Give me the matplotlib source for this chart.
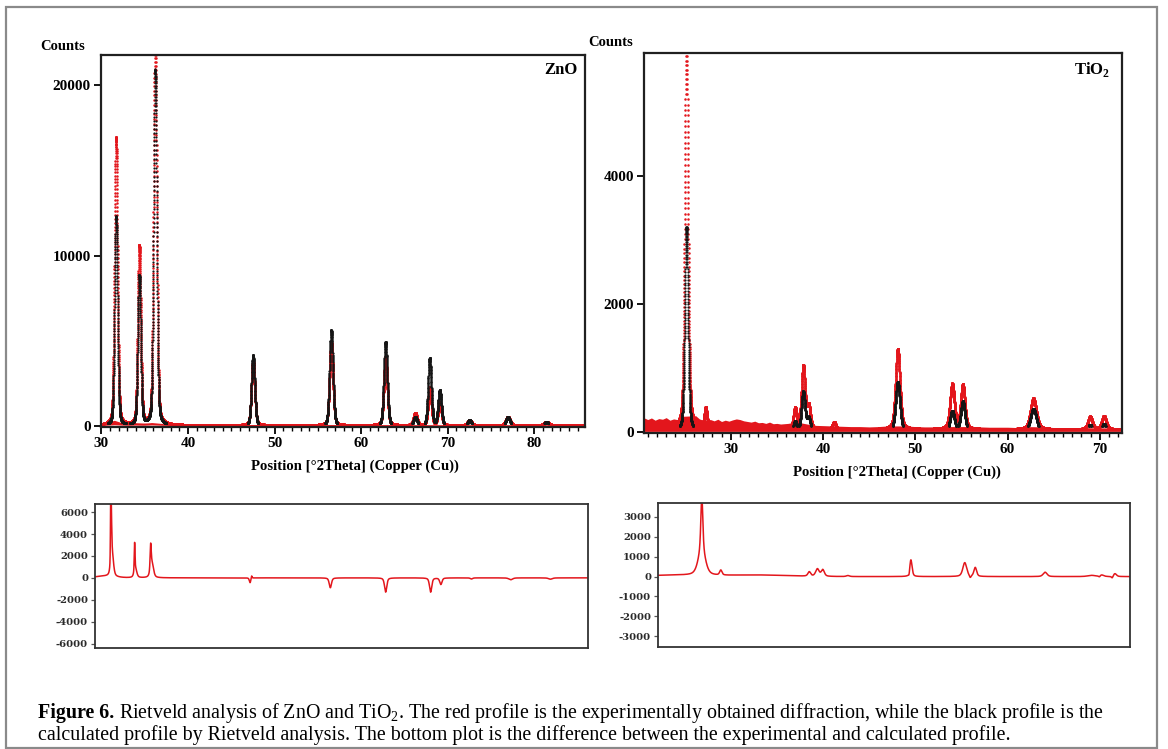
import numpy as np
import matplotlib
matplotlib.use('Agg')
import matplotlib.pyplot as plt
from matplotlib.patches import Rectangle

plt.rcParams['font.family'] = ['Liberation Serif', 'DejaVu Serif']
plt.rcParams['mathtext.fontset'] = 'custom'
plt.rcParams['mathtext.rm'] = 'Liberation Serif'
plt.rcParams['mathtext.bf'] = 'Liberation Serif:bold'
plt.rcParams['axes.unicode_minus'] = False

RED = '#e3161c'
BLACK = '#151515'

zno_pos = [31.70, 34.38, 36.22, 47.52, 56.55, 62.82, 66.25, 67.92, 69.08, 72.52, 76.95, 81.40]
zno_obs = [16900, 10500, 23500, 3850, 4850, 4000, 720, 2200, 1330, 300, 480, 200]
zno_calc = [12300, 8800, 20900, 4150, 5620, 4920, 520, 3980, 2080, 330, 520, 230]
zno_fwhm = [0.40, 0.40, 0.42, 0.44, 0.46, 0.46, 0.46, 0.44, 0.44, 0.50, 0.55, 0.60]
zno_bg = 50
# thick noisy band of the observed background
zno_band_x = [29.9, 30.4, 30.8, 31.2, 31.5, 32.3, 32.8, 33.4, 33.9, 34.9, 35.4, 35.8, 36.9, 37.6, 40, 50, 60, 70, 80, 85.9]
zno_band_hi = [150, 190, 230, 290, 330, 200, 150, 170, 190, 170, 180, 200, 150, 110, 90, 80, 80, 70, 70, 70]
zno_band_lo = [30, 40, 50, 60, 70, 50, 40, 40, 50, 40, 50, 60, 40, 30, 30, 20, 20, 20, 20, 20]

# ---- TiO2 peaks
tio2_pos = [25.20, 27.28, 36.97, 37.86, 38.45, 41.20, 48.10, 54.00, 55.15, 62.80, 68.95, 70.45]
tio2_obs = [6500, 320, 320, 980, 350, 110, 1260, 700, 690, 480, 195, 205]
tio2_calc = [3200, 0, 150, 620, 200, 0, 780, 320, 470, 360, 110, 120]
tio2_fwhm = [0.40, 0.35, 0.40, 0.45, 0.42, 0.40, 0.55, 0.55, 0.52, 0.75, 0.55, 0.55]
tio2_bg = 40
tio2_band_x = [20.55, 21.0, 21.4, 21.8, 22.2, 22.6, 23.0, 23.4, 23.8, 24.2, 24.6, 26.2, 26.6,
               27.0, 27.8, 28.2, 28.6, 29.0, 29.4, 29.8, 30.2, 30.6, 31.0, 31.4, 31.8, 32.2,
               32.6, 33.0, 33.4, 33.8, 34.2, 34.6, 35.0, 35.4, 35.8, 36.2, 36.6, 37.2, 39.0,
               40, 41, 42, 43, 44, 45, 46, 47, 49, 50, 51, 52, 53, 56, 57, 58, 59, 60, 61,
               62, 64, 65, 66, 67, 68, 69.5, 71, 72.4]
tio2_band_hi = [220, 190, 215, 180, 205, 195, 220, 180, 200, 190, 240, 250, 200,
                180, 190, 170, 195, 160, 180, 165, 185, 200, 190, 170, 160, 150,
                165, 140, 145, 130, 150, 125, 130, 120, 125, 130, 140, 150, 100,
                95, 90, 85, 80, 80, 75, 80, 90, 90, 80, 75, 75, 80, 80, 75, 70, 70, 70, 65,
                80, 75, 65, 60, 60, 65, 60, 60, 55]
tio2_band_lo = 5

# ---- difference curves (bottom panels): position, amplitude, fwhm
zno_diff_pos = [31.66, 31.74, 31.82, 34.36, 34.46, 36.18, 36.33, 47.45, 47.62, 56.55, 62.82, 67.92, 69.08, 72.55, 77.0, 81.5]
zno_diff_amp = [7500, 2800, 2000, 2600, 800, 2300, 1300, -450, 250, -900, -1300, -1300, -600, -100, -170, -120]
zno_diff_fwhm = [0.08, 0.10, 0.35, 0.10, 0.35, 0.15, 0.40, 0.20, 0.12, 0.30, 0.30, 0.30, 0.30, 0.30, 0.50, 0.50]
zno_diff_hump = [(31.0, 150, 2.5)]

tio2_diff_pos = [25.20, 25.20, 27.28, 36.97, 37.86, 38.45, 41.2, 47.90, 48.10, 54.00, 54.60, 55.15, 62.80, 67.9, 68.75, 69.0, 70.15, 70.45]
tio2_diff_amp = [2700, 1300, 250, 220, 370, 330, 50, -150, 850, 700, -120, 450, 220, 60, -60, 80, -100, 150]
tio2_diff_fwhm = [0.25, 0.90, 0.30, 0.35, 0.45, 0.40, 0.40, 0.15, 0.30, 0.50, 0.20, 0.35, 0.50, 1.00, 0.20, 0.50, 0.20, 0.40]
tio2_diff_hump = [(22.0, 70, 6.0), (31.0, 80, 8.0)]


def pv(x, pos, h, w, eta=0.5):
    d = 4 * (x - pos) ** 2 / w ** 2
    return h * (eta / (1 + d) + (1 - eta) * np.exp(-np.log(2) * d))


def profile(x, pos, hts, fw, base=0.0, humps=(), eta=0.5):
    y = np.full_like(x, base, dtype=float)
    for p, h, w in zip(pos, hts, fw):
        y += pv(x, p, h, w, eta)
    for p, h, w in humps:
        y += pv(x, p, h, w, eta=0.0)
    return y


W, H = 1168, 749
fig = plt.figure(figsize=(W / 100, H / 100), dpi=100)


def box(l, r, t, b):
    return [l / W, 1 - b / H, (r - l) / W, (b - t) / H]


fig.patches.append(Rectangle((6 / W, 1 - 748 / H), 1151 / W, 741 / H, transform=fig.transFigure,
                             fill=False, ec='#8a8a8a', lw=1.6))


def style_top(ax, xlim, ylim, yticks, xticks):
    ax.set_xlim(*xlim)
    ax.set_ylim(*ylim)
    ax.set_yticks(yticks)
    ax.set_xticks(xticks)
    ax.set_xticks(np.arange(np.ceil(xlim[0]), xlim[1], 1.0), minor=True)
    for s in ax.spines.values():
        s.set_linewidth(1.6)
        s.set_color('#202020')
    ax.tick_params(axis='both', which='major', direction='out', length=5, width=1.3,
                   labelsize=11, pad=2)
    ax.tick_params(axis='x', which='minor', direction='out', length=3, width=1.0)
    for lab in ax.get_xticklabels() + ax.get_yticklabels():
        lab.set_fontweight('bold')


def style_bottom(ax, xlim, ylim, yticks):
    ax.set_xlim(*xlim)
    ax.set_ylim(*ylim)
    ax.set_yticks(yticks)
    ax.set_xticks([])
    for s in ax.spines.values():
        s.set_linewidth(1.3)
        s.set_color('#333333')
    ax.tick_params(axis='y', direction='out', length=3, width=0.9, labelsize=7.2,
                   pad=2, labelcolor='#2a2a2a', color='#555555')
    for lab in ax.get_yticklabels():
        lab.set_fontweight('bold')
        lab.set_family('DejaVu Serif')


# ---------------- ZnO observed / calculated
ax1 = fig.add_axes(box(100.5, 585, 55, 427.3))
x1 = np.arange(29.9, 85.9, 0.004)
obs1 = profile(x1, zno_pos, zno_obs, zno_fwhm, zno_bg, eta=0.25)
calc1 = profile(x1, zno_pos, zno_calc, zno_fwhm, 0, eta=0.25)
ax1.fill_between(zno_band_x, zno_band_lo, zno_band_hi, color=RED, lw=0)
ax1.plot(x1, obs1, 'o', ms=1.8, mew=0, color=RED)
m = calc1 > 150
ax1.plot(x1[m], calc1[m], 'o', ms=1.6, mew=0, color=BLACK)
style_top(ax1, (29.9, 85.85), (-80, 21780), [0, 10000, 20000], [30, 40, 50, 60, 70, 80])
ax1.text(0.985, 0.982, 'ZnO', transform=ax1.transAxes, ha='right', va='top',
         fontsize=12, fontweight='bold')
fig.text(63 / W, 1 - 46 / H, 'Counts', ha='center', va='center', fontsize=10.5, fontweight='bold')
fig.text(355 / W, 1 - 466 / H, 'Position [°2Theta] (Copper (Cu))', ha='center', va='center',
         fontsize=10.6, fontweight='bold')

# ---------------- TiO2 observed / calculated
ax2 = fig.add_axes(box(643.6, 1122, 52.7, 433.3))
x2 = np.arange(20.55, 72.45, 0.004)
obs2 = profile(x2, tio2_pos, tio2_obs, tio2_fwhm, tio2_bg, eta=0.4)
calc2 = profile(x2, tio2_pos, tio2_calc, tio2_fwhm, 0, eta=0.4)
ax2.fill_between(tio2_band_x, tio2_band_lo, tio2_band_hi, color=RED, lw=0)
ax2.plot(x2, obs2, 'o', ms=1.8, mew=0, color=RED)
m = calc2 > 90
ax2.plot(x2[m], calc2[m], 'o', ms=1.6, mew=0, color=BLACK)
style_top(ax2, (20.55, 72.4), (-25, 5930), [0, 2000, 4000], [30, 40, 50, 60, 70])
ax2.text(0.975, 0.982, r'TiO$_\mathbf{2}$', transform=ax2.transAxes, ha='right', va='top',
         fontsize=12, fontweight='bold')
fig.text(611 / W, 1 - 42 / H, 'Counts', ha='center', va='center', fontsize=10.5, fontweight='bold')
fig.text(897 / W, 1 - 472 / H, 'Position [°2Theta] (Copper (Cu))', ha='center', va='center',
         fontsize=10.6, fontweight='bold')

# ---------------- difference plots
ax3 = fig.add_axes(box(95, 588, 504, 648))
x3 = np.arange(29.87, 85.76, 0.005)
ax3.plot(x3, profile(x3, zno_diff_pos, zno_diff_amp, zno_diff_fwhm, 0, zno_diff_hump),
         color=RED, lw=1.1)
style_bottom(ax3, (29.87, 85.76), (-6400, 6740), np.arange(-6000, 6001, 2000))

ax4 = fig.add_axes(box(658, 1130, 503, 647))
x4 = np.arange(20.4, 72.1, 0.005)
ax4.plot(x4, profile(x4, tio2_diff_pos, tio2_diff_amp, tio2_diff_fwhm, 0, tio2_diff_hump),
         color=RED, lw=1.1)
style_bottom(ax4, (20.4, 72.1), (-3540, 3700), np.arange(-3000, 3001, 1000))

# ---------------- caption
cap_size = 14.4
r = fig.canvas.get_renderer()
t0 = fig.text(38 / W, 1 - 713 / H, 'Figure 6.', fontsize=cap_size, fontweight='bold',
              va='center', ha='left')
bb = t0.get_window_extent(renderer=r)
fig.text(bb.x1 / W, 1 - 713 / H,
         ' Rietveld analysis of ZnO and TiO$_2$. The red profile is the experimentally obtained '
         'diffraction, while the black profile is the',
         fontsize=cap_size, va='center', ha='left')
fig.text(38 / W, 1 - 735 / H,
         'calculated profile by Rietveld analysis. The bottom plot is the difference between the '
         'experimental and calculated profile.',
         fontsize=cap_size, va='center', ha='left')

fig.savefig('out.png', dpi=100)
